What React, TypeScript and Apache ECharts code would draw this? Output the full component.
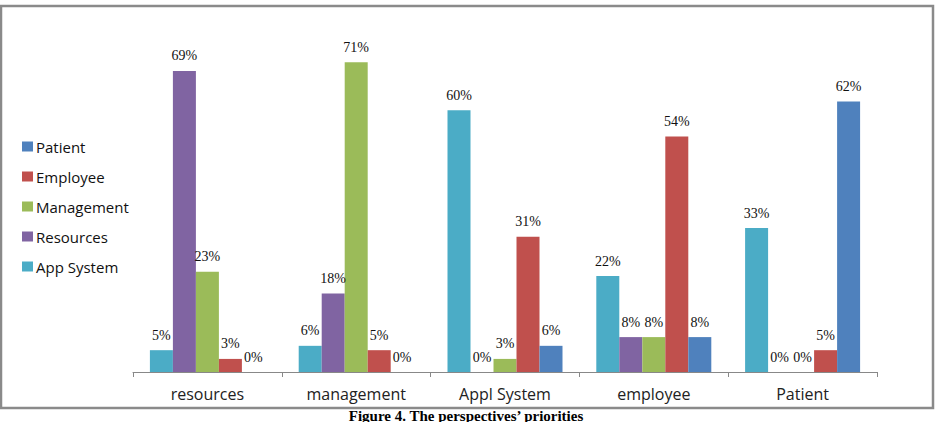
import React, { useEffect, useRef } from "react";
import * as echarts from "echarts";

// Perspectives (x categories)
const categories = ["resources", "management", "Appl System", "employee", "Patient"];

// Priority shares (%) per perspective, one array per series
const appSystem = [5, 6, 60, 22, 33];
const resources = [69, 18, 0, 8, 0];
const management = [23, 71, 3, 8, 0];
const employee = [3, 5, 31, 54, 5];
const patient = [0, 0, 6, 8, 62];

const seriesNames = ["App System", "Resources", "Management", "Employee", "Patient"];
const seriesData = [appSystem, resources, management, employee, patient];
const seriesColors = ["#4BACC6", "#8064A2", "#9BBB59", "#C0504D", "#4F81BD"];
const legendOrder = ["Patient", "Employee", "Management", "Resources", "App System"];

const caption = "Figure 4. The perspectives\u2019 priorities";

export default function App() {
  const ref = useRef<HTMLDivElement>(null);

  useEffect(() => {
    if (!ref.current) return;
    const chart = echarts.init(ref.current, null, { renderer: "svg" });
    chart.setOption({
      animation: false,
      backgroundColor: "#ffffff",
      grid: { left: 133, right: 64, top: 23, bottom: 50 },
      legend: {
        data: legendOrder,
        orient: "vertical",
        left: 17,
        top: 133,
        itemWidth: 11,
        itemHeight: 10,
        itemGap: 13,
        icon: "rect",
        textStyle: {
          fontFamily: "Open Sans",
          fontSize: 15,
          color: "#111",
          lineHeight: 17,
          padding: [0, 0, 0, -2],
        },
      },
      xAxis: {
        type: "category",
        data: categories,
        axisLine: { lineStyle: { color: "#888", width: 1 } },
        axisTick: { show: true, length: 5, lineStyle: { color: "#888" } },
        axisLabel: {
          fontFamily: "Open Sans",
          fontSize: 16,
          color: "#222",
          margin: 14,
        },
      },
      yAxis: {
        type: "value",
        min: 0,
        max: 80,
        show: false,
        splitLine: { show: false },
      },
      series: seriesNames.map((name, i) => ({
        name,
        type: "bar",
        data: seriesData[i],
        barWidth: 23,
        barGap: "0%",
        itemStyle: { color: seriesColors[i] },
        label: {
          show: true,
          position: "top",
          distance: 8,
          formatter: "{c}%",
          fontFamily: "Liberation Serif",
          fontSize: 14,
          color: "#111",
        },
      })),
      graphic: [
        {
          type: "rect",
          shape: { x: 1, y: 6, width: 932, height: 402 },
          style: { fill: "none", stroke: "#8a8a8a", lineWidth: 2.5 },
          silent: true,
        },
        {
          type: "text",
          x: 466,
          y: 409,
          style: {
            text: caption,
            fontFamily: "Liberation Serif",
            fontWeight: "bold",
            fontSize: 15,
            lineHeight: 13,
            fill: "#000",
            align: "center",
            verticalAlign: "top",
          },
        },
      ],
    });
    return () => chart.dispose();
  }, []);

  return (
    <div
      ref={ref}
      style={{ position: "fixed", left: 0, top: 0, width: 941, height: 422 }}
    />
  );
}
